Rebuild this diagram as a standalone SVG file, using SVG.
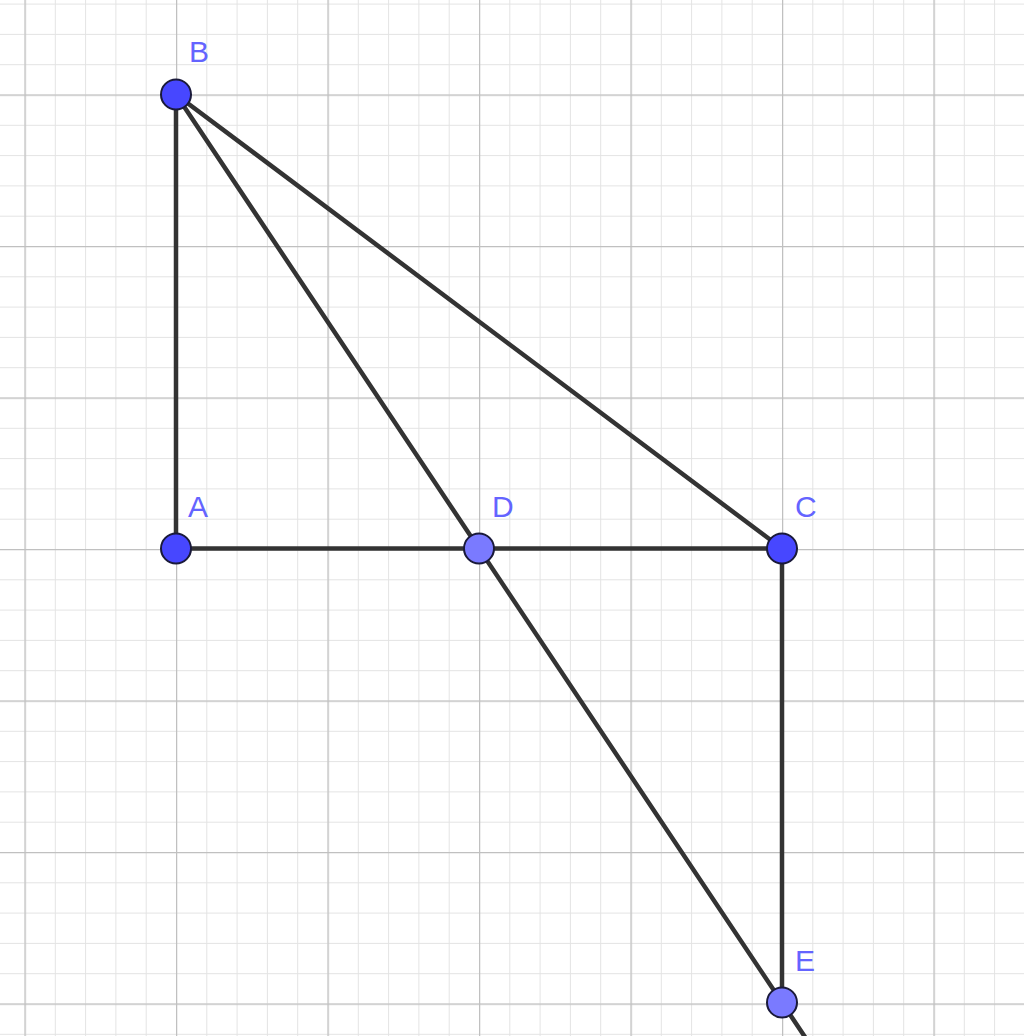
<svg xmlns="http://www.w3.org/2000/svg" width="1024" height="1036" viewBox="0 0 1024 1036">
<style>
.minor{stroke:#e3e3e3;stroke-width:2;fill:none}
.major{stroke:#c0c0c0;stroke-width:2.5;fill:none}
.seg{stroke:#333333;stroke-width:4.5;stroke-linecap:round;fill:none}
.free{fill:#4747ff;stroke:#1a1a3a;stroke-width:2}
.dep{fill:#7a7aff;stroke:#1a1a3a;stroke-width:2}
.lbl{font-family:"Liberation Sans","DejaVu Sans",sans-serif;font-size:30px;fill:#6464ff}
</style>
<defs>
<pattern id="minorGrid" x="24.5" y="94.5" width="30.3" height="30.3" patternUnits="userSpaceOnUse">
<path d="M0 0H30.3M0 0V30.3" class="minor"/>
</pattern>
<pattern id="majorGrid" x="24.5" y="94.5" width="151.5" height="151.5" patternUnits="userSpaceOnUse">
<path d="M0 0H151.5M0 0V151.5" class="major"/>
</pattern>
</defs>
<rect width="1024" height="1036" fill="#ffffff"/>
<g id="grid">
<rect width="1024" height="1036" fill="url(#minorGrid)"/>
<rect width="1024" height="1036" fill="url(#majorGrid)"/>
</g>
<g id="connectors">
<line class="seg" x1="176" y1="94.5" x2="176" y2="548.5"/>
<line class="seg" x1="176" y1="548.5" x2="782" y2="548.5"/>
<line class="seg" x1="176" y1="94.5" x2="782" y2="548.5"/>
<line class="seg" x1="782" y1="548.5" x2="782" y2="1002.5"/>
<line class="seg" x1="176" y1="94.5" x2="806" y2="1038.5"/>
</g>
<g id="B"><circle class="free" cx="176" cy="94.5" r="15"/><text class="lbl" x="189" y="62">B</text></g>
<g id="A"><circle class="free" cx="176" cy="548.5" r="15"/><text class="lbl" x="188" y="517">A</text></g>
<g id="D"><circle class="dep" cx="479" cy="548.5" r="15"/><text class="lbl" x="492" y="517">D</text></g>
<g id="C"><circle class="free" cx="782" cy="548.5" r="15"/><text class="lbl" x="795" y="517">C</text></g>
<g id="E"><circle class="dep" cx="782" cy="1002.5" r="15"/><text class="lbl" x="795" y="971">E</text></g>
</svg>
